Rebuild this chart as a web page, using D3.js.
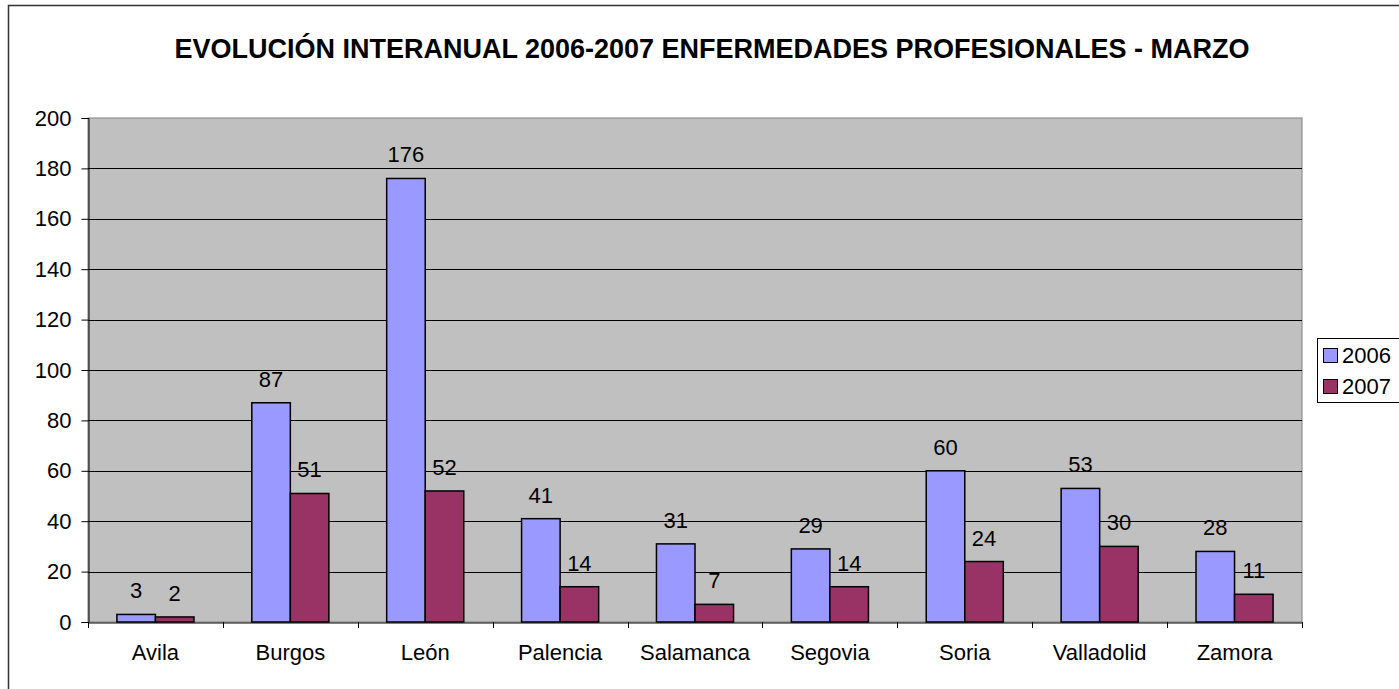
<!DOCTYPE html>
<html>
<head>
<meta charset="utf-8">
<script src="https://cdn.jsdelivr.net/npm/d3@7"></script>
<style>
  body { margin: 0; background: #fff; }
  svg { display: block; font-family: "Liberation Sans", Arial, sans-serif; }
</style>
</head>
<body>
<svg width="1399" height="689"></svg>
<script>
var provincias = ["Avila", "Burgos", "León", "Palencia", "Salamanca", "Segovia", "Soria", "Valladolid", "Zamora"];
var years = ["2006", "2007"];
var values2006 = [3, 87, 176, 41, 31, 29, 60, 53, 28];
var values2007 = [2, 51, 52, 14, 7, 14, 24, 30, 11];
var yTicks = [0, 20, 40, 60, 80, 100, 120, 140, 160, 180, 200];
var colors = ["#9999FF", "#993366"];
var title = "EVOLUCIÓN INTERANUAL 2006-2007 ENFERMEDADES PROFESIONALES - MARZO";

var svg = d3.select("svg");
var plotLeft = 88, plotRight = 1302, plotTop = 118, plotBottom = 622;

// outer chart border
svg.append("rect")
    .attr("x", 8.5).attr("y", 5.5)
    .attr("width", 1400).attr("height", 700)
    .attr("fill", "#fff").attr("stroke", "#333").attr("stroke-width", 1.5);

svg.append("text")
    .attr("x", 712).attr("y", 58)
    .attr("text-anchor", "middle")
    .style("font-weight", "bold")
    .style("font-size", "27px")
    .text(title);

var x = d3.scaleBand().domain(provincias).range([plotLeft, plotRight]);
var xi = d3.scaleBand().domain(years).range([0, x.bandwidth()]).paddingInner(0).paddingOuter(0.75);
var y = d3.scaleLinear().domain([0, 200]).range([plotBottom, plotTop]);

// plot area
svg.append("rect")
    .attr("x", plotLeft).attr("y", plotTop)
    .attr("width", plotRight - plotLeft).attr("height", plotBottom - plotTop)
    .attr("fill", "#C0C0C0").attr("stroke", "#808080");

// gridlines
svg.append("g").selectAll("line")
    .data(yTicks.slice(1, -1))
    .enter().append("line")
    .attr("x1", plotLeft).attr("x2", plotRight)
    .attr("y1", function(d) { return Math.round(y(d)) + 0.5; })
    .attr("y2", function(d) { return Math.round(y(d)) + 0.5; })
    .attr("stroke", "#000");

var yAxis = svg.append("g")
    .attr("transform", "translate(" + (plotLeft + 0.5) + ",0)")
    .call(d3.axisLeft(y).tickValues(yTicks).tickSize(7).tickPadding(10));
yAxis.selectAll("text").style("font-size", "22px").attr("fill", "#000");
yAxis.select(".domain").attr("stroke", "#000");

var xAxis = svg.append("g")
    .attr("transform", "translate(0," + (plotBottom + 0.5) + ")")
    .call(d3.axisBottom(x).tickSize(0).tickPadding(22));
xAxis.selectAll("text").style("font-size", "22px").attr("fill", "#000");
xAxis.select(".domain").attr("stroke", "#000");

// category boundary ticks
svg.append("g").selectAll("line")
    .data(provincias.concat(["end"]))
    .enter().append("line")
    .attr("x1", function(d, i) { return Math.round(plotLeft + i * x.step()) + 0.5; })
    .attr("x2", function(d, i) { return Math.round(plotLeft + i * x.step()) + 0.5; })
    .attr("y1", plotBottom).attr("y2", plotBottom + 6)
    .attr("stroke", "#000");

var series = [values2006, values2007];
series.forEach(function(vals, s) {
    var g = svg.append("g");
    g.selectAll("rect")
        .data(vals)
        .enter().append("rect")
        .attr("x", function(d, i) { return x(provincias[i]) + xi(years[s]); })
        .attr("y", function(d) { return y(d); })
        .attr("width", xi.bandwidth())
        .attr("height", function(d) { return plotBottom - y(d); })
        .attr("fill", colors[s])
        .attr("stroke", "#000").attr("stroke-width", 1.5);
    g.selectAll("text")
        .data(vals)
        .enter().append("text")
        .attr("x", function(d, i) { return x(provincias[i]) + xi(years[s]) + xi.bandwidth() / 2; })
        .attr("y", function(d) { return y(d) - 16; })
        .attr("text-anchor", "middle")
        .style("font-size", "22px")
        .text(function(d) { return d; });
});

// legend
var legend = svg.append("g");
legend.append("rect")
    .attr("x", 1317.5).attr("y", 338.5)
    .attr("width", 90).attr("height", 64)
    .attr("fill", "#fff").attr("stroke", "#000");
years.forEach(function(yr, i) {
    legend.append("rect")
        .attr("x", 1323.5).attr("y", 348.5 + i * 31)
        .attr("width", 14).attr("height", 14)
        .attr("fill", colors[i]).attr("stroke", "#000");
    legend.append("text")
        .attr("x", 1342).attr("y", 363 + i * 31)
        .style("font-size", "22px")
        .text(yr);
});
</script>
</body>
</html>
